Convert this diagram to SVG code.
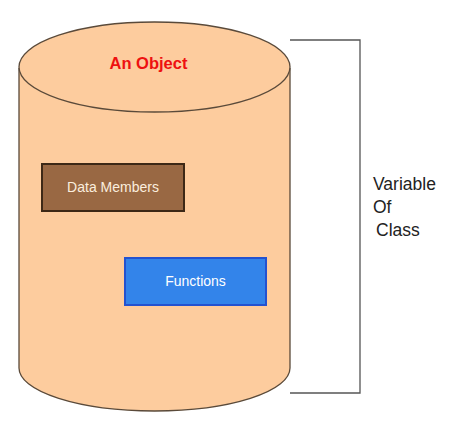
<svg xmlns="http://www.w3.org/2000/svg" width="460" height="425" viewBox="0 0 460 425">
<style>
.lbl{font-family:"Liberation Sans",Arial,sans-serif}
.box{stroke-width:2}
</style>
<rect width="460" height="425" fill="#ffffff"/>
<g id="object">
<path d="M19,68 L19,368 A135.5,43 0 0 0 290,368 L290,68" fill="#fdcc9e" stroke="#5a4a3a" stroke-width="1.3"/>
<ellipse cx="154.5" cy="67" rx="135.5" ry="45" fill="#fdcc9e" stroke="#5a4a3a" stroke-width="1.3"/>
<text class="lbl" x="148.5" y="69" text-anchor="middle" font-size="16.5" font-weight="bold" fill="#ee1111">An Object</text>
</g>
<g id="data-members">
<rect class="box" x="42" y="164" width="142" height="47" fill="#996843" stroke="#3d2816"/>
<text class="lbl" x="113" y="192" text-anchor="middle" font-size="14" fill="#fbeede">Data Members</text>
</g>
<g id="functions">
<rect class="box" x="125" y="258" width="141" height="47" fill="#3384ea" stroke="#2352d0"/>
<text class="lbl" x="195.5" y="286" text-anchor="middle" font-size="14" fill="#ffffff">Functions</text>
</g>
<g id="connectors">
<path d="M290,40 L360,40 L360,393 L290,393" fill="none" stroke="#555555" stroke-width="1.3"/>
</g>
<g id="variable-of-class" class="lbl" font-size="17.5" fill="#222222">
<text x="373" y="190">Variable</text>
<text x="373" y="213">Of</text>
<text x="376" y="236">Class</text>
</g>
</svg>
